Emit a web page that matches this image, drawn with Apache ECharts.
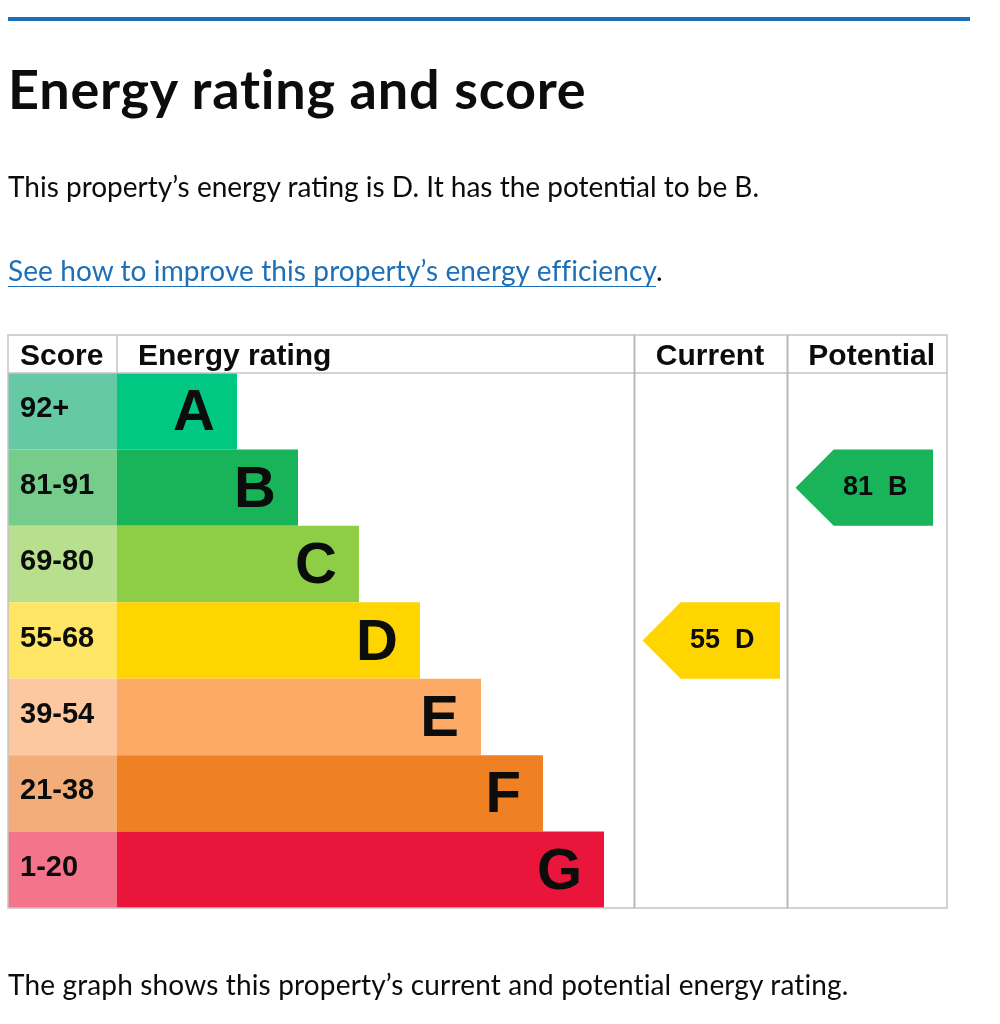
<!DOCTYPE html>
<html>
<head>
<meta charset="utf-8">
<script src="https://cdn.jsdelivr.net/npm/echarts@6/dist/echarts.min.js"></script>
<style>
  html, body { margin: 0; padding: 0; background: #fff; }
  #page { position: relative; width: 1000px; height: 1024px; }
  #chart { position: absolute; left: 0; top: 0; width: 1000px; height: 1024px; }
  .rule { position: absolute; left: 8px; top: 17px; width: 962px; height: 4px; background: #1d70b8; }
  .txt { position: absolute; left: 8px; margin: 0; font-family: Lato, "Noto Sans", sans-serif; color: #0b0c0c; white-space: nowrap; }
  h1.txt { top: 58px; font-size: 54px; font-weight: 700; line-height: 62px; letter-spacing: 0.75px; }
  .p1 { top: 168px; font-size: 28px; line-height: 36px; }
  .p2 { top: 252px; font-size: 28px; line-height: 36px; letter-spacing: 0.1px; }
  .p2 a { color: #1d70b8; text-decoration: underline; text-underline-offset: 5px; text-decoration-thickness: 1px; }
  .p3 { top: 966px; font-size: 28px; line-height: 36px; letter-spacing: 0.15px; }
</style>
</head>
<body>
<div id="page">
  <div id="chart"></div>
  <div class="rule"></div>
  <h1 class="txt">Energy rating and score</h1>
  <p class="txt p1">This property’s energy rating is D. It has the potential to be B.</p>
  <p class="txt p2"><a href="#">See how to improve this property’s energy efficiency</a>.</p>
  <p class="txt p3">The graph shows this property’s current and potential energy rating.</p>
</div>
<script>
// 等级和分数段
const bands = ['A', 'B', 'C', 'D', 'E', 'F', 'G']
const scoreRanges = ['92+', '81-91', '69-80', '55-68', '39-54', '21-38', '1-20']
// 彩条长度（能源等级列内，像素单位）
const barLengths = [120, 181, 242, 303, 364, 426, 487]
const bandColors = ['#00c781', '#19b459', '#8dce46', '#ffd500', '#fcaa65', '#ef8023', '#e9153b']
const scoreColors = ['#64c9a4', '#75cc8b', '#b7df8d', '#ffe566', '#fdc89f', '#f3ad78', '#f3748b']
// 当前 / 潜在
const currentScore = [55]
const currentBand = ['D']
const potentialScore = [81]
const potentialBand = ['B']

const tableFont = '"Liberation Sans", Arial, sans-serif'
const ink = '#0b0c0c'
const lineColor = '#c4c4c4'

let chart = echarts.init(document.getElementById('chart'))

// 分数列格子
function scoreCell(params, api) {
    let cs = params.coordSys
    let idx = api.value(0)
    let c = api.coord([0, idx])
    let h = api.size([0, 1])[1]
    return {
        type: 'group',
        children: [{
            type: 'rect',
            shape: { x: cs.x, y: c[1] - h / 2, width: cs.width, height: h },
            style: { fill: scoreColors[params.dataIndex] }
        }, {
            type: 'text',
            x: cs.x + 12,
            y: c[1] - 2,
            style: {
                text: scoreRanges[params.dataIndex],
                font: 'bold 29px ' + tableFont,
                fill: ink,
                verticalAlign: 'middle'
            }
        }]
    }
}

// 箭头
function arrow(scores) {
    return function (params, api) {
        let cs = params.coordSys
        let c = api.coord([api.value(0), api.value(1)])
        let h = api.size([0, 1])[1]
        let x0 = cs.x + 8.5, w = 137.5
        let top = c[1] - h / 2, bottom = c[1] + h / 2
        let color = bandColors[api.value(1)]
        return {
            type: 'group',
            children: [{
                type: 'polygon',
                shape: { points: [[x0, c[1]], [x0 + h / 2, top], [x0 + w, top], [x0 + w, bottom], [x0 + h / 2, bottom]] },
                style: { fill: color }
            }, {
                type: 'text',
                x: x0 + w / 2 + 11,
                y: c[1],
                style: {
                    text: scores[params.dataIndex] + '  ' + bands[api.value(1)],
                    font: 'bold 27px ' + tableFont,
                    fill: ink,
                    align: 'center',
                    verticalAlign: 'middle'
                }
            }]
        }
    }
}

let gridTop = 373, gridH = 535
let yCat = i => ({ type: 'category', data: bands, inverse: true, show: false, gridIndex: i })

let option = {
    animation: false,
    grid: [
        { left: 8, top: gridTop, width: 109, height: gridH },
        { left: 117, top: gridTop, width: 517, height: gridH },
        { left: 634, top: gridTop, width: 153, height: gridH },
        { left: 787, top: gridTop, width: 160, height: gridH }
    ],
    xAxis: [
        { type: 'value', min: 0, max: 1, show: false, gridIndex: 0 },
        { type: 'value', min: 0, max: 517, show: false, gridIndex: 1 },
        { type: 'value', min: 0, max: 100, show: false, gridIndex: 2 },
        { type: 'value', min: 0, max: 100, show: false, gridIndex: 3 }
    ],
    yAxis: [yCat(0), yCat(1), yCat(2), yCat(3)],
    series: [
        {
            type: 'custom',
            xAxisIndex: 0, yAxisIndex: 0,
            data: bands.map((b, i) => [i]),
            encode: { y: 0 },
            renderItem: scoreCell
        },
        {
            type: 'bar',
            xAxisIndex: 1, yAxisIndex: 1,
            barCategoryGap: '0%',
            data: barLengths.map((v, i) => ({ value: v, itemStyle: { color: bandColors[i] } })),
            label: {
                show: true,
                position: 'insideRight',
                distance: 22,
                offset: [0, 3],
                formatter: p => bands[p.dataIndex],
                fontFamily: tableFont,
                fontWeight: 'bold',
                fontSize: 58,
                color: ink
            }
        },
        {
            type: 'custom',
            xAxisIndex: 2, yAxisIndex: 2,
            data: currentScore.map((s, i) => [s, currentBand[i]]),
            encode: { x: 0, y: 1 },
            renderItem: arrow(currentScore)
        },
        {
            type: 'custom',
            xAxisIndex: 3, yAxisIndex: 3,
            data: potentialScore.map((s, i) => [s, potentialBand[i]]),
            encode: { x: 0, y: 1 },
            renderItem: arrow(potentialScore)
        }
    ],
    graphic: [
        // 表格线
        { type: 'rect', z: 10, shape: { x: 8, y: 335, width: 939, height: 573 }, style: { fill: null, stroke: lineColor, lineWidth: 1.5 } },
        { type: 'line', z: 10, shape: { x1: 8, y1: 373, x2: 947, y2: 373 }, style: { stroke: lineColor, lineWidth: 1.5 } },
        { type: 'line', z: 10, shape: { x1: 117, y1: 335, x2: 117, y2: 373 }, style: { stroke: lineColor, lineWidth: 1.5 } },
        { type: 'line', z: 10, shape: { x1: 634.5, y1: 335, x2: 634.5, y2: 908 }, style: { stroke: '#b8b8b8', lineWidth: 2 } },
        { type: 'line', z: 10, shape: { x1: 787.5, y1: 335, x2: 787.5, y2: 908 }, style: { stroke: '#b8b8b8', lineWidth: 2 } },
        // 表头
        { type: 'text', x: 20, y: 357, style: { text: 'Score', font: 'bold 30px ' + tableFont, fill: ink, verticalAlign: 'middle' } },
        { type: 'text', x: 138, y: 357, style: { text: 'Energy rating', font: 'bold 30px ' + tableFont, fill: ink, verticalAlign: 'middle' } },
        { type: 'text', x: 710, y: 357, style: { text: 'Current', font: 'bold 30px ' + tableFont, fill: ink, align: 'center', verticalAlign: 'middle' } },
        { type: 'text', x: 935, y: 357, style: { text: 'Potential', font: 'bold 30px ' + tableFont, fill: ink, align: 'right', verticalAlign: 'middle' } }
    ]
}

chart.setOption(option)
</script>
</body>
</html>
